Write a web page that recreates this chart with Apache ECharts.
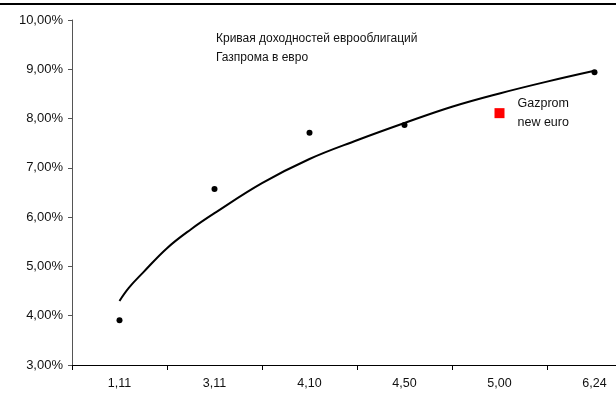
<!DOCTYPE html>
<html lang="ru">
<head>
    <meta charset="UTF-8">
    <title>Кривая доходностей еврооблигаций Газпрома в евро</title>
    <style>
        html, body { margin: 0; padding: 0; background: #fff; overflow: hidden; }
        #wrap { position: relative; width: 616px; height: 396px; overflow: hidden; }
        #topline { position: absolute; left: 0; top: 3px; width: 616px; height: 2px; background: #000; z-index: 2; }
        /* область графика шире окна: правый край оси обрезан, как в оригинале */
        #container { width: 660px; height: 396px; }
    </style>
</head>
<body>
<div id="wrap">
    <div id="topline"></div>
    <div id="container"></div>
</div>
<script src="https://cdn.jsdelivr.net/npm/echarts@6/dist/echarts.min.js"></script>
<script type="text/javascript">
    // срок до погашения (категории оси X)
    var categories = ['1,11', '3,11', '4,10', '4,50', '5,00', '6,24'];
    // доходности выпусков, %
    var yields = [3.91, 6.57, 7.71, 7.87, '-', 8.94];
    // новый выпуск Gazprom new euro
    var newEuro = ['-', '-', '-', '-', 8.11, '-'];
    // линия тренда (позиция категории 1..6, %)
    var trendX = [1, 1.1, 1.25, 1.5, 1.75, 2, 2.5, 3, 3.5, 4, 4.5, 5, 5.5, 6];
    var trendY = [4.30, 4.57, 4.88, 5.37, 5.75, 6.08, 6.69, 7.18, 7.56, 7.91, 8.24, 8.51, 8.75, 8.97];
    var yTicks = [3, 4, 5, 6, 7, 8, 9, 10];

    var trend = [];
    for (var i = 0; i < trendX.length; i++) {
        trend.push([trendX[i], trendY[i]]);
    }

    var font = "'Liberation Sans', Arial, sans-serif";
    var myChart = echarts.init(document.getElementById('container'));
    var option = {
        animation: false,
        title: {
            text: 'Кривая доходностей еврооблигаций\nГазпрома в евро',
            left: 211,
            top: 24,
            textStyle: { fontFamily: font, fontSize: 12, fontWeight: 'normal', color: '#111', lineHeight: 19 }
        },
        grid: { left: 72, top: 20, width: 570, height: 345 },
        xAxis: [{
            type: 'category',
            data: categories,
            boundaryGap: true,
            axisLine: { lineStyle: { color: '#000', width: 1 } },
            axisTick: { show: true, interval: 0, length: 5, lineStyle: { color: '#000' } },
            axisLabel: { interval: 0, margin: 12, fontFamily: font, fontSize: 12.5, color: '#111' },
            splitLine: { show: false }
        }, {
            type: 'value',
            min: 0.5,
            max: 6.5,
            show: false
        }],
        yAxis: {
            type: 'value',
            min: yTicks[0],
            max: yTicks[yTicks.length - 1],
            interval: 1,
            axisLine: { show: true, lineStyle: { color: '#555', width: 1 } },
            axisTick: { show: true, length: 4, lineStyle: { color: '#555' } },
            axisLabel: {
                margin: 9,
                fontFamily: font, fontSize: 13, color: '#111',
                formatter: function (v) { return v.toFixed(2).replace('.', ',') + '%'; }
            },
            splitLine: { show: false }
        },
        series: [{
            name: 'тренд',
            type: 'line',
            xAxisIndex: 1,
            data: trend,
            smooth: 0.4,
            showSymbol: false,
            lineStyle: { color: '#000', width: 2 },
            z: 2
        }, {
            name: 'доходность',
            type: 'scatter',
            data: yields,
            symbol: 'circle',
            symbolSize: 6,
            itemStyle: { color: '#000', opacity: 1 },
            z: 3
        }, {
            name: 'Gazprom new euro',
            type: 'scatter',
            data: newEuro,
            symbol: 'rect',
            symbolSize: 10,
            itemStyle: { color: '#ff0000', opacity: 1 },
            label: {
                show: true,
                position: 'right',
                distance: 13,
                formatter: 'Gazprom\nnew euro',
                fontFamily: font, fontSize: 12.5, color: '#111', lineHeight: 19, align: 'left'
            },
            z: 3
        }]
    };

    if (option && typeof option === "object") {
        myChart.setOption(option, true);
    }
</script>
</body>
</html>
